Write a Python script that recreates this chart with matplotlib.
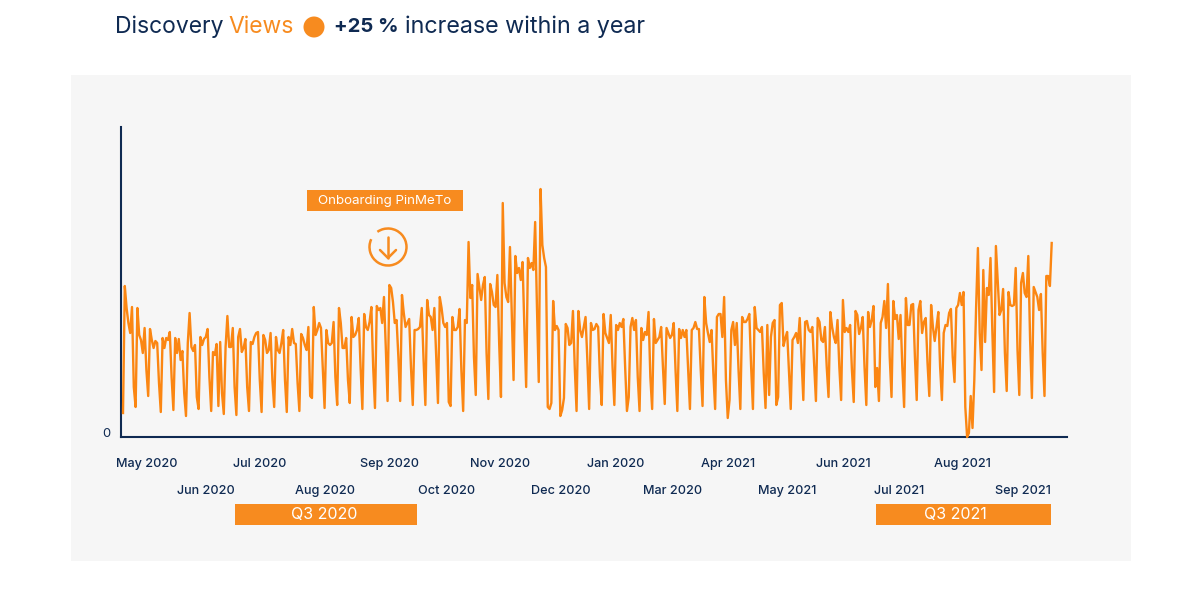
import numpy as np
import matplotlib
matplotlib.use('Agg')
import matplotlib.pyplot as plt
from matplotlib.patches import Arc, Circle, Rectangle

views_2020a = [
    24, 151, 129, 114, 104, 130, 50, 30,
    129, 102, 97, 84, 109, 67, 41,
    108, 97, 89, 96, 94, 54, 25,
    99, 89, 99, 97, 105, 60, 27,
    99, 84, 98, 77, 86, 44, 21,
    94, 124, 90, 86, 92, 40, 28,
    100, 92, 98, 100, 108, 60, 26,
    85, 82, 93, 31, 95, 44, 23,
    90, 121, 90, 90, 109, 50, 22,
    100, 108, 85, 89, 98, 50, 26,
    95, 93, 100, 104, 105, 57, 25,
    102, 97, 84, 87, 104, 57, 30,
    100, 87, 84, 94, 107, 57, 25,
    100, 92, 108, 94, 93, 54, 26,
    103, 99, 92, 87, 110, 41, 39,
    130, 102, 107, 114, 109, 70, 29,
    107, 94, 92, 94, 115, 60, 32,
    129, 114, 89, 89, 99, 57, 34,
]
views_2020b = [
    120, 100, 102, 107, 119, 70, 28,
    123, 110, 107, 115, 130, 70, 29,
    131, 127, 129, 114, 140, 90, 36,
    152, 149, 135, 114, 117, 80, 36,
    142, 124, 110, 114, 118, 70, 32,
    107, 107, 108, 110, 129, 77, 32,
    137, 122, 120, 107, 129, 80, 34,
    140, 129, 114, 110, 114, 35, 31,
    120, 107, 107, 110, 128, 67, 26,
    117, 114, 195, 139, 152, 80, 42,
    163, 150, 137, 152, 160, 84, 38,
    153, 145, 132, 130, 162, 94, 40,
    234, 154, 140, 135, 190, 124, 57,
    181, 164, 169, 157, 175, 110, 50,
    179, 169, 174, 167, 215, 130, 55,
    248, 192, 179, 170, 30, 28, 34,
    136, 107, 111, 107, 21, 27, 39,
    113, 109, 92, 94, 126, 70, 26,
    126, 107, 100, 110, 120, 77, 28,
]
views_2021a = [
    114, 107, 108, 113, 110, 60, 32,
    123, 104, 99, 94, 122, 70, 32,
    112, 107, 114, 110, 118, 70, 26,
    40, 110, 119, 107, 117, 60, 26,
    109, 97, 105, 102, 125, 60, 28,
    118, 94, 97, 100, 110, 70, 33,
    109, 104, 99, 102, 114, 67, 26,
    108, 99, 107, 100, 107, 67, 28,
    107, 109, 115, 108, 108, 67, 31,
    140, 114, 104, 95, 107, 64, 28,
    120, 123, 123, 100, 140, 57, 19,
    37, 107, 115, 92, 114, 67, 28,
    120, 115, 115, 118, 123, 70, 28,
    130, 109, 107, 105, 110, 64, 29,
    112, 42, 100, 114, 117, 32, 40,
    132, 134, 91, 99, 105, 67, 28,
    97, 100, 104, 94, 119, 77, 37,
    115, 116, 107, 105, 110, 74, 36,
    119, 115, 97, 95, 110, 70, 40,
]
views_2021b = [
    125, 110, 100, 94, 117, 70, 37,
    137, 105, 109, 105, 112, 67, 35,
    126, 122, 103, 109, 120, 70, 32,
    125, 110, 117, 131, 50, 69, 36,
    114, 120, 136, 109, 153, 80, 40,
    136, 118, 122, 98, 122, 70, 30,
    139, 112, 112, 132, 133, 80, 37,
    127, 136, 104, 115, 119, 74, 41,
    132, 110, 96, 110, 125, 70, 37,
    104, 112, 111, 124, 128, 80, 55,
    129, 132, 144, 132, 145, 30, 0,
    4, 41, 9, 57, 130, 189, 104, 67,
    167, 95, 149, 142, 179, 107, 45,
    191, 157, 122, 127, 148, 84, 46,
    145, 132, 131, 132, 169, 87, 42,
    154, 164, 144, 140, 181, 97, 39,
    150, 145, 140, 127, 143, 84, 41,
    161, 161, 151, 194,
]
views = np.array(views_2020a + views_2020b + views_2021a + views_2021b)
days = np.arange(len(views))

month_labels = ['May 2020', 'Jun 2020', 'Jul 2020', 'Aug 2020', 'Sep 2020', 'Oct 2020',
                'Nov 2020', 'Dec 2020', 'Jan 2020', 'Mar 2020', 'Apr 2021', 'May 2021',
                'Jun 2021', 'Jul 2021', 'Aug 2021', 'Sep 2021']
month_px = [147, 206, 260, 325, 389, 447, 500, 561, 616, 673, 728, 787, 843, 899, 962, 1023]

W, H = 1200, 597
ORANGE = '#f78b1f'
LINE = '#fb8612'
NAVY = '#0f2a52'
FONT = 'Inter'

plt.rcParams['font.family'] = FONT
fig = plt.figure(figsize=(W / 100, H / 100), dpi=100, facecolor='white')

# overlay in picture pixels for the panel, title and boxes
bg = fig.add_axes([0, 0, 1, 1])
bg.set_xlim(0, W)
bg.set_ylim(H, 0)
bg.axis('off')
bg.add_patch(Rectangle((71, 75), 1060, 486, color='#f6f6f6', lw=0))

bg.text(115, 27, 'Discovery', color=NAVY, fontsize=16.5, va='center')
bg.text(228, 27, 'Views', color=ORANGE, fontsize=16.5, va='center')
bg.add_patch(Circle((314, 27), 10.5, color=ORANGE, lw=0))
bg.text(334, 27, '+25 %', color=NAVY, fontsize=14.6, va='center', fontweight='bold')
bg.text(405, 27, 'increase within a year', color=NAVY, fontsize=16.8, va='center')

bg.add_patch(Rectangle((307, 190), 156, 21, color=ORANGE, lw=0))
bg.text(384.5, 201, 'Onboarding PinMeTo', color='white', fontsize=9.6, ha='center', va='center')

# down arrow in a broken circle, the gap sits upper left
bg.add_patch(Arc((388, 247), 37, 37, theta1=-125, theta2=205, color=ORANGE, lw=1.8))
bg.plot([388, 388], [237, 258], color=ORANGE, lw=1.8, solid_capstyle='round')
bg.plot([380, 388, 396], [250, 258, 250], color=ORANGE, lw=1.8, solid_capstyle='round')

bg.add_patch(Rectangle((235, 504), 182, 21, color=ORANGE, lw=0))
bg.text(324, 515, 'Q3 2020', color='white', fontsize=11.5, ha='center', va='center')
bg.add_patch(Rectangle((876, 504), 175, 21, color=ORANGE, lw=0))
bg.text(955, 515, 'Q3 2021', color='white', fontsize=11.5, ha='center', va='center')

# the chart itself
left, right, top, base = 121, 1067, 127, 437
ax = fig.add_axes([left / W, 1 - base / H, (right - left) / W, (base - top) / H])
ax.patch.set_alpha(0)
px_per_day = (1051.7 - 123) / (len(views) - 1)
x0 = -(123 - left) / px_per_day
ax.set_xlim(x0, x0 + (right - left) / px_per_day)
ax.set_ylim(0, base - top)
ax.plot(days, views, color=LINE, lw=1.7, solid_joinstyle='round', clip_on=False, zorder=3)

for side in ['top', 'right']:
    ax.spines[side].set_visible(False)
for side in ['left', 'bottom']:
    ax.spines[side].set_color(NAVY)
    ax.spines[side].set_linewidth(1.5)

ax.set_yticks([0], ['0'])
ax.tick_params(axis='y', length=0, pad=8, labelsize=9.3, labelcolor=NAVY)
ax.set_yticklabels(['0'], va='baseline')

tick_days = [(p - 123) / px_per_day for p in month_px]
ax.set_xticks(tick_days, month_labels)
ax.tick_params(axis='x', length=0, labelsize=9.1, labelcolor=NAVY)
for i, tick in enumerate(ax.xaxis.get_major_ticks()):
    tick.set_pad(15 if i % 2 == 0 else 34.5)
    tick.label1.set_fontweight('medium')

fig.savefig('out.png', dpi=100)
